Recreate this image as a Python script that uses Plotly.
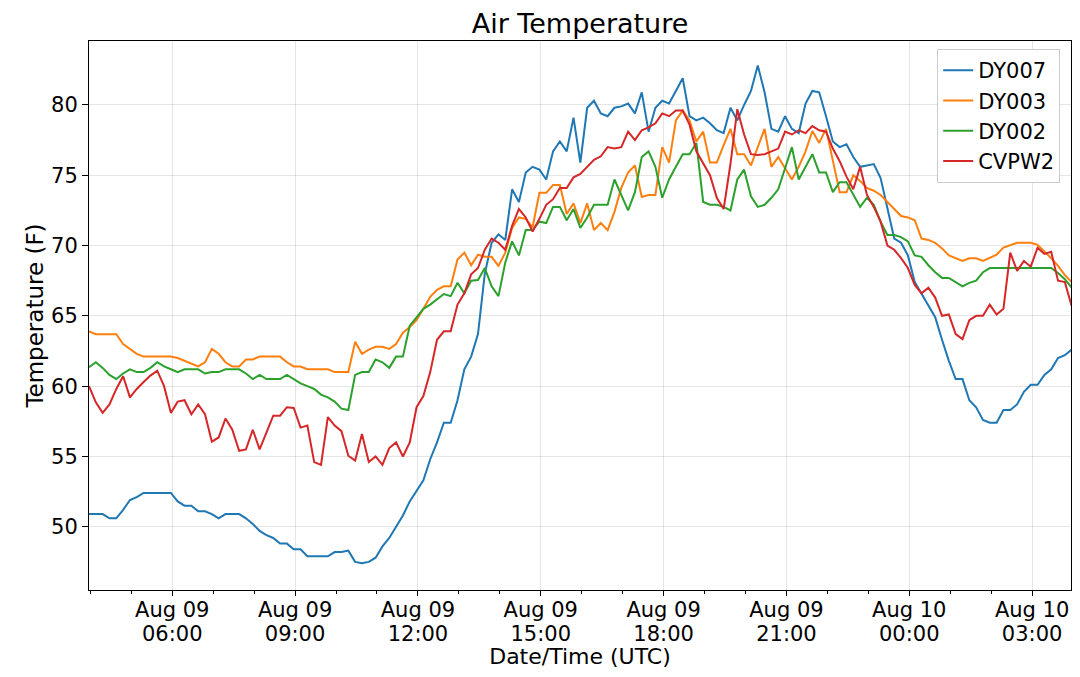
import pandas as pd
import plotly.graph_objects as go

# 10 minute readings, Aug 09 ~04:00 UTC to Aug 10 ~04:00 UTC
start_time = "2023-08-09 03:58"
n_points = 145
times = pd.date_range(start_time, periods=n_points, freq="10min")

stations = ["DY007", "DY003", "DY002", "CVPW2"]
colors = ["#1f77b4", "#ff7f0e", "#2ca02c", "#d62728"]

dy007 = [
    50.9, 50.9, 50.9, 50.6, 50.6, 51.2, 51.9, 52.1, 52.4, 52.4,
    52.4, 52.4, 52.4, 51.8, 51.5, 51.5, 51.1, 51.1, 50.9, 50.6,
    50.9, 50.9, 50.9, 50.6, 50.2, 49.7, 49.4, 49.2, 48.8, 48.8,
    48.4, 48.4, 47.9, 47.9, 47.9, 47.9, 48.2, 48.2, 48.3, 47.5,
    47.4, 47.5, 47.8, 48.6, 49.2, 50.0, 50.8, 51.8, 52.6, 53.3,
    54.8, 56.0, 57.4, 57.4, 59.0, 61.2, 62.1, 63.7, 68.0, 70.2,
    70.8, 70.4, 74.0, 73.1, 75.2, 75.6, 75.4, 74.7, 76.7, 77.4,
    76.7, 79.1, 75.9, 79.8, 80.3, 79.4, 79.2, 79.8, 79.9, 80.1,
    79.4, 80.9, 78.1, 79.8, 80.3, 80.1, 81.0, 81.9, 79.2, 78.9,
    79.1, 78.7, 78.2, 78.0, 79.8, 78.9, 80.0, 81.0, 82.8, 80.9,
    78.3, 78.1, 79.2, 78.3, 78.0, 80.1, 81.0, 80.9, 79.2, 77.4,
    77.0, 77.2, 76.3, 75.6, 75.7, 75.8, 74.8, 72.7, 70.5, 70.2,
    69.3, 67.4, 66.6, 65.8, 64.9, 63.3, 61.8, 60.5, 60.5, 59.0,
    58.5, 57.6, 57.4, 57.4, 58.3, 58.3, 58.7, 59.6, 60.1, 60.1,
    60.8, 61.2, 62.0, 62.2, 62.6,
]

dy003 = [
    63.9, 63.7, 63.7, 63.7, 63.7, 63.0, 62.65, 62.3, 62.1, 62.1,
    62.1, 62.1, 62.1, 62.0, 61.8, 61.6, 61.4, 61.7, 62.65, 62.3,
    61.7, 61.4, 61.4, 61.9, 61.9, 62.1, 62.1, 62.1, 62.1, 61.7,
    61.4, 61.4, 61.2, 61.2, 61.2, 61.2, 61.0, 61.0, 61.0, 63.15,
    62.3, 62.6, 62.8, 62.8, 62.65, 63.0, 63.8, 64.2, 64.7, 65.5,
    66.35, 66.85, 67.1, 67.1, 69.0, 69.5, 68.6, 69.35, 69.2, 69.2,
    68.55, 69.5, 71.25, 72.0, 71.9, 71.3, 73.75, 73.75, 74.3, 74.3,
    72.25, 73.0, 71.6, 73.0, 71.1, 71.6, 71.1, 72.4, 74.1, 75.2,
    75.7, 73.45, 73.6, 73.6, 77.0, 75.9, 78.9, 79.6, 78.9, 77.4,
    78.1, 75.9, 75.9, 77.15, 78.3, 76.5, 76.5, 75.7, 77.0, 78.3,
    75.6, 76.3, 75.5, 74.7, 75.6, 76.7, 78.15, 77.3, 78.3, 76.0,
    73.8, 73.8, 75.0, 74.6, 74.1, 73.9, 73.6, 73.1, 72.6, 72.1,
    72.0, 71.8, 70.5, 70.4, 70.2, 69.8, 69.3, 69.1, 68.9, 69.1,
    69.1, 68.9, 69.1, 69.35, 69.85, 70.0, 70.2, 70.2, 70.2, 70.05,
    69.6, 69.1, 68.55, 67.9, 67.4,
]

dy002 = [
    61.35, 61.7, 61.3, 60.8, 60.5, 60.9, 61.2, 61.0, 61.0, 61.3,
    61.7, 61.4, 61.2, 61.0, 61.2, 61.2, 61.2, 60.9, 61.0, 61.0,
    61.2, 61.2, 61.2, 60.9, 60.5, 60.8, 60.5, 60.5, 60.5, 60.8,
    60.5, 60.2, 60.0, 59.8, 59.4, 59.2, 58.9, 58.4, 58.3, 60.8,
    61.0, 61.0, 61.9, 61.7, 61.3, 62.1, 62.1, 64.3, 64.9, 65.5,
    65.8, 66.2, 66.55, 66.4, 67.35, 66.6, 67.5, 67.55, 68.4, 67.1,
    66.4, 68.8, 70.3, 69.3, 71.1, 71.1, 71.7, 71.6, 72.75, 72.75,
    71.8, 72.6, 71.25, 72.0, 72.9, 72.9, 72.9, 74.7, 73.6, 72.5,
    73.8, 76.3, 76.7, 75.6, 73.4, 74.7, 75.6, 76.5, 76.5, 77.3,
    73.1, 72.9, 72.9, 72.75, 72.5, 74.7, 75.4, 73.5, 72.75, 72.9,
    73.4, 74.0, 75.5, 77.0, 74.7, 75.6, 76.5, 75.2, 75.2, 73.8,
    74.5, 74.5, 73.6, 72.75, 73.4, 72.9, 71.7, 70.75, 70.75, 70.6,
    70.3, 69.3, 69.2, 68.6, 68.1, 67.7, 67.7, 67.4, 67.1, 67.35,
    67.5, 68.1, 68.4, 68.4, 68.4, 68.4, 68.4, 68.4, 68.4, 68.4,
    68.4, 68.4, 68.05, 67.6, 67.0,
]

cvpw2 = [
    60.0, 58.85, 58.1, 58.7, 59.8, 60.7, 59.2, 59.8, 60.3, 60.75,
    61.1, 60.0, 58.1, 58.9, 59.0, 58.0, 58.7, 58.0, 56.05, 56.35,
    57.7, 56.9, 55.4, 55.5, 56.9, 55.5, 56.7, 57.9, 57.9, 58.5,
    58.45, 57.05, 57.2, 54.6, 54.4, 57.8, 57.2, 56.8, 55.05, 54.7,
    56.6, 54.6, 55.0, 54.4, 55.6, 56.0, 55.0, 56.0, 58.5, 59.3,
    61.0, 63.3, 63.9, 63.9, 65.8, 66.6, 67.95, 68.4, 69.7, 70.5,
    70.2, 69.7, 71.4, 72.6, 72.0, 71.0, 71.9, 72.9, 73.3, 74.1,
    74.1, 74.85, 75.1, 75.6, 76.1, 76.35, 77.0, 76.9, 77.0, 78.1,
    77.5, 78.2, 78.4, 78.7, 79.4, 79.2, 79.6, 79.6, 78.6, 76.7,
    75.9, 75.0, 73.4, 72.6, 75.8, 79.7, 77.9, 76.5, 76.45, 76.5,
    76.7, 76.9, 78.1, 77.9, 78.2, 78.0, 78.5, 78.2, 78.1, 76.9,
    76.0, 74.9, 74.0, 75.6, 73.6, 72.75, 71.7, 70.0, 69.7, 69.1,
    68.4, 67.2, 66.6, 67.0, 66.3, 65.0, 65.1, 63.7, 63.35, 64.7,
    65.0, 65.0, 65.8, 65.1, 65.5, 69.5, 68.2, 68.9, 68.5, 69.85,
    69.4, 69.55, 67.5, 67.4, 65.7,
]

y_ticks = [50, 55, 60, 65, 70, 75, 80]
x_range = ["2023-08-09 03:58", "2023-08-10 03:57"]

fig = go.Figure()
for name, vals, col in zip(stations, [dy007, dy003, dy002, cvpw2], colors):
    fig.add_trace(go.Scatter(x=times, y=vals, mode="lines", name=name,
                             line=dict(color=col, width=2)))
# empty trace so the second (time-of-day) x axis gets drawn
fig.add_trace(go.Scatter(x=[times[0], times[-1]], y=[None, None], xaxis="x2",
                         mode="lines", showlegend=False, hoverinfo="skip"))

# page has an 8px body margin, so the figure is 16px smaller than the window
font = "DejaVu Sans, Arial, sans-serif"
three_h = 3 * 3600 * 1000
fig.update_layout(
    width=1064, height=661,
    margin=dict(l=81, r=1, t=33, b=79),
    paper_bgcolor="white", plot_bgcolor="white",
    font=dict(family=font, size=21, color="black"),
    title=dict(text="Air Temperature", x=0.5376, xanchor="center",
               y=0.976, yanchor="middle", font=dict(size=27)),
    legend=dict(x=0.989, y=0.9854, xanchor="right", yanchor="top",
                bgcolor="rgba(255,255,255,0.9)", bordercolor="#cccccc",
                borderwidth=1, font=dict(size=21)),
    # date line of the tick labels
    xaxis=dict(
        range=x_range, tick0="2023-08-09 06:00", dtick=three_h,
        tickformat="%b %d",
        ticks="outside", ticklen=5, tickcolor="black",
        minor=dict(dtick=3600 * 1000, ticks="outside", ticklen=3,
                   tickcolor="black", showgrid=False),
        showgrid=True, gridcolor="rgba(0,0,0,0.1)",
        showline=True, linecolor="black", linewidth=1, mirror=True,
        ticklabelstandoff=-4, automargin=False,
    ),
    # time line of the tick labels, plus the axis title
    xaxis2=dict(
        range=x_range, tick0="2023-08-09 06:00", dtick=three_h,
        tickformat="%H:%M", overlaying="x", side="bottom", anchor="y",
        ticks="", showgrid=False, showline=False, zeroline=False,
        ticklabelstandoff=29, automargin=False,
        title=dict(text="Date/Time (UTC)", font=dict(size=22), standoff=8),
    ),
    yaxis=dict(
        range=[45.5, 84.55], tickvals=y_ticks,
        ticks="outside", ticklen=6, tickcolor="black",
        showgrid=True, gridcolor="rgba(0,0,0,0.1)",
        showline=True, linecolor="black", linewidth=1, mirror=True,
        zeroline=False, automargin=False,
        title=dict(text="Temperature (F)", font=dict(size=23), standoff=1),
    ),
)

fig.write_html("out.html")
